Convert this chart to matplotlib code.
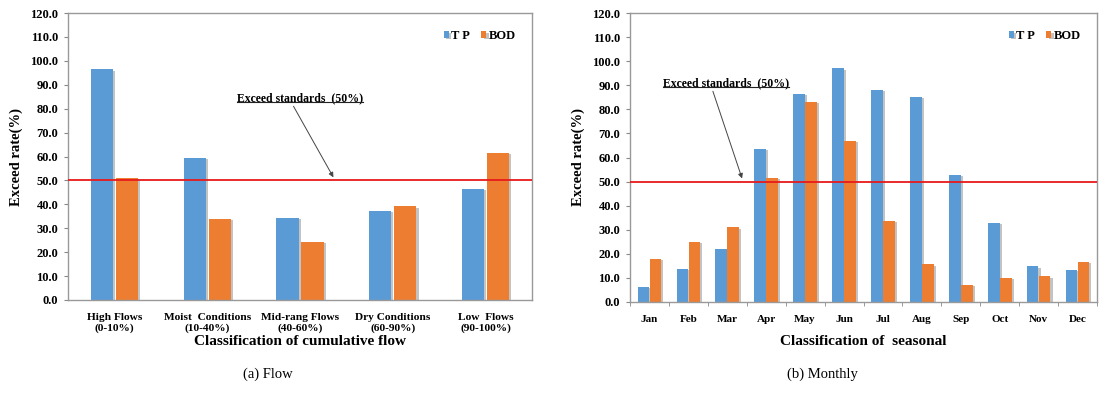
import numpy as np
import matplotlib
matplotlib.use("Agg")
import matplotlib.pyplot as plt
import matplotlib.patheffects as pe

plt.rcParams['font.family'] = ['Liberation Serif', 'DejaVu Serif']

# exceedance rate by flow class
flow_labels = ['High Flows\n(0-10%)', 'Moist  Conditions\n(10-40%)', 'Mid-rang Flows\n(40-60%)',
               'Dry Conditions\n(60-90%)', 'Low  Flows\n(90-100%)']
flow_tp = [96.5, 59.5, 34.3, 37.3, 46.6]
flow_bod = [51.0, 34.0, 24.4, 39.1, 61.5]

# exceedance rate by month
months = ['Jan', 'Feb', 'Mar', 'Apr', 'May', 'Jun', 'Jul', 'Aug', 'Sep', 'Oct', 'Nov', 'Dec']
month_tp = [6.2, 13.8, 22.1, 63.5, 86.5, 97.0, 88.0, 85.3, 52.7, 32.8, 14.8, 13.4]
month_bod = [17.9, 25.1, 31.0, 51.6, 83.0, 67.0, 33.6, 15.6, 7.2, 10.1, 10.6, 16.6]

standard = 50.0
blue = '#5B9BD5'
orange = '#ED7D31'
shadow = [pe.SimplePatchShadow(offset=(1.5, -1), shadow_rgbFace='#888888', alpha=0.5), pe.Normal()]

fig = plt.figure(figsize=(10.99, 3.94), dpi=100)
ax1 = fig.add_axes([68 / 1099, 1 - 300 / 394, 464 / 1099, 287 / 394])
ax2 = fig.add_axes([630 / 1099, 1 - 302 / 394, 467 / 1099, 289 / 394])


def draw_panel(ax, labels, tp, bod, width, offset, label_size):
    x = np.arange(len(labels))
    b1 = ax.bar(x - offset, tp, width, color=blue, label='T P')
    b2 = ax.bar(x + offset, bod, width, color=orange, label='BOD')
    for b in list(b1) + list(b2):
        b.set_path_effects(shadow)
    ax.axhline(standard, color='#E8191B', lw=1.3, zorder=3)
    ax.set_ylim(0, 120)
    ax.set_yticks(np.arange(0, 121, 10))
    ax.set_yticklabels([f'{v:.1f}' for v in np.arange(0, 121, 10)], fontsize=9, fontweight='bold')
    ax.set_xlim(-0.5, len(labels) - 0.5)
    ax.set_xticks(x)
    ax.set_xticklabels(labels, fontsize=label_size, fontweight='bold')
    ax.tick_params(axis='y', length=3, color='#888888', pad=4)
    for s in ax.spines.values():
        s.set_color('#999999')
        s.set_linewidth(1.0)
    ax.set_ylabel('Exceed rate(%)', fontsize=10.5, fontweight='bold', labelpad=5)
    ax.legend(loc='upper right', frameon=False, ncol=2, handlelength=0.4, handleheight=0.4,
              columnspacing=0.9, handletextpad=0.2, prop={'weight': 'bold', 'size': 9},
              bbox_to_anchor=(0.99, 0.98))
    return ax


def underlined_note(ax, text, xy_text, arrow_from, arrow_to):
    t = ax.text(xy_text[0], xy_text[1], text, ha='center', va='bottom',
                fontsize=8.5, fontweight='bold')
    fig.canvas.draw()
    bb = t.get_window_extent().transformed(ax.transData.inverted())
    ax.plot([bb.x0, bb.x1], [bb.y0 + 0.6, bb.y0 + 0.6], color='#222222', lw=0.8, zorder=4)
    ax.annotate('', xy=arrow_to, xytext=arrow_from,
                arrowprops=dict(arrowstyle='-|>', color='#444444', lw=0.7, mutation_scale=7,
                                shrinkA=0, shrinkB=0))


# (a) flow classes
draw_panel(ax1, flow_labels, flow_tp, flow_bod, 0.24, 0.135, 8.2)
ax1.tick_params(axis='x', length=0, pad=9)
ax1.set_xlabel('Classification of cumulative flow', fontsize=11, fontweight='bold', labelpad=2)
underlined_note(ax1, 'Exceed standards  (50%)', (2.0, 82.0), (1.93, 81.0), (2.36, 51.3))

# (b) months
draw_panel(ax2, months, month_tp, month_bod, 0.3, 0.155, 8)
ax2.set_xticks(np.arange(-0.5, len(months), 1), minor=True)
ax2.tick_params(axis='x', which='major', length=0, pad=9)
ax2.tick_params(axis='x', which='minor', length=3, color='#888888')
ax2.set_xlabel('Classification of  seasonal', fontsize=11, fontweight='bold', labelpad=8)
underlined_note(ax2, 'Exceed standards  (50%)', (1.97, 88.5), (1.63, 87.5), (2.38, 51.3))

fig.text(268 / 1099, 1 - 374 / 394, '(a) Flow', ha='center', va='center', fontsize=10.5)
fig.text(822 / 1099, 1 - 374 / 394, '(b) Monthly', ha='center', va='center', fontsize=10.5)

fig.savefig('out.png', dpi=100)
